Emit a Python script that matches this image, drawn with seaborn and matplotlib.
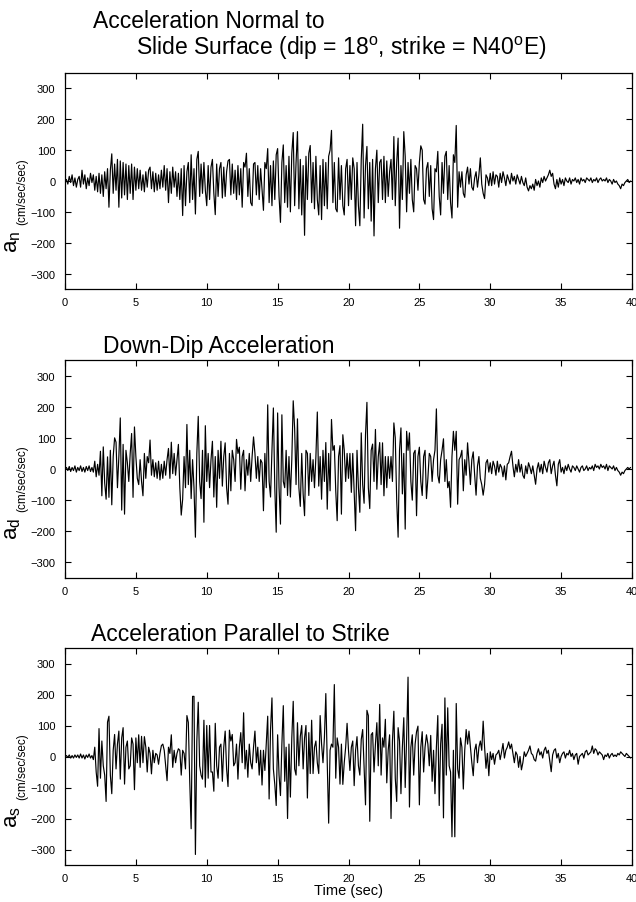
import matplotlib

matplotlib.use("Agg")
import matplotlib.pyplot as plt
import numpy as np
import pandas as pd
import seaborn as sns

# samples every 0.1 s, one row per second (values in cm/sec/sec)
DT = 0.1

AN = [
    0, 5, -10, 15, -5, 20, -15, 10, -20, 5,
    15, -20, 35, -10, 20, -25, 10, -15, 25, -5,
    20, -30, 15, -35, 25, -40, 20, -50, 30, -25,
    40, -85, 35, 88, -40, 55, -30, 70, -85, 65,
    -55, 60, -45, 55, -60, 50, -40, 55, -60, 45,
    -30, 40, -25, 35, -30, 20, -35, 30, -20, 35,
    45, -25, 30, -35, 25, -30, 20, -25, 35, -20,
    50, -30, 40, -70, 30, -40, 45, -20, 30, -50,
    25, -60, 40, -112, 50, -80, 30, 60, -70, 85,
    -60, 40, -107, 70, 96, -50, 55, -40, 60, -30,
    -80, 50, -60, 45, 70, -40, -109, 55, -50, 40,
    60, -55, 45, -50, 30, 65, 70, -45, 55, -40,
    35, -60, 50, -45, 40, -85, 60, 45, 90, -50,
    40, -70, -80, 55, 60, -45, 50, -60, 40, -30,
    -95, 60, 40, 105, -70, 50, -80, 65, -60, 85,
    105, -50, -134, 60, 117, -70, 50, -85, 80, -100,
    90, 157, -80, 60, 160, -90, 70, -110, 50, -176,
    80, -60, 90, 115, -70, 60, -90, 80, -60, -110,
    50, -125, 70, -80, 60, -90, 80, 100, 164, -70,
    60, -90, -100, 75, -60, 50, -80, -110, 40, 70,
    -80, 50, -60, 75, 40, -145, 60, -80, -145, 70,
    184, -120, 50, 112, -90, 60, -130, 70, -178, 40,
    100, -70, 60, 70, -60, 80, -70, 65, -50, 30,
    70, -60, 144, -80, 60, 139, -153, 50, -60, 160,
    80, -100, 60, -40, 70, -60, -100, 50, 40, -30,
    60, 114, 100, -60, -75, 40, 60, -50, 50, -90,
    -125, 40, 30, 96, -50, -110, 60, -40, 80, 96,
    -60, 50, -70, -120, 85, 60, 180, -85, 30, -20,
    30, -40, -53, 20, 45, -10, 40, -20, -30, 10,
    30, -20, 20, 75, -10, -40, -57, 20, 10, -15,
    25, -15, 30, -10, 20, 15, -20, 25, -5, 30,
    10, -15, 20, 5, -10, 25, 0, 15, -10, 20,
    5, -10, 15, -5, -15, 10, -20, -32, -15, -25,
    -10, -30, 5, -15, 0, -20, 10, -5, 15, 0,
    10, 20, 35, 15, 25, -10, -25, 5, -20, 10,
    -10, 5, -15, 10, 0, -5, 10, -10, 5, 0,
    10, -5, 5, -10, 10, 0, 5, -5, 10, 5,
    0, 10, -5, 5, 0, 10, -5, 5, 10, 0,
    5, 0, 10, -5, 5, 0, -10, 5, -5, 0,
    -10, -15, -25, -10, -15, -5, 0, 5, -5, 0,
]

AD = [
    0, 5, -5, 8, -8, 5, -5, 10, -10, 5,
    -5, 10, -8, 5, -10, 8, -5, 10, -8, 5,
    -10, 25, -25, 15, -20, 57, -86, 71, -45, -97,
    39, -91, 60, -115, 40, 100, 86, -60, 40, 164,
    -132, 79, -145, 60, 20, -40, 50, 114, -91, 135,
    40, -30, -50, 30, -40, -86, 50, -30, 40, 20,
    93, -20, 30, -25, 20, -30, 25, -35, 15, -30,
    25, -20, 30, 66, -30, 86, -15, 50, -20, 30,
    79, -60, -148, -97, 40, -60, 143, -50, 60, -95,
    30, -60, -219, 50, 169, -40, -95, 60, -171, 139,
    -40, 50, -60, 30, 89, -90, 40, -123, 60, -30,
    89, -55, 40, 84, -60, -113, 50, -70, 60, 30,
    -40, 95, 50, 70, -65, 40, 60, -70, 30, -20,
    50, -40, 40, 103, 50, -30, 40, -40, 30, 20,
    -134, 50, -60, 206, -40, -90, 60, 196, -60, -203,
    180, -60, -177, 174, -40, -60, 60, -85, 40, -90,
    30, 219, 130, -50, 161, -60, -120, 50, -80, -150,
    60, 50, -85, 50, -40, 30, -60, 40, 183, -55,
    40, -97, 60, -40, 85, -129, 50, -70, 159, 60,
    75, -70, -166, 40, 75, -145, 110, 60, -40, 50,
    -30, 50, -75, 50, -75, -198, 60, -60, -139, 116,
    -50, -110, 110, 214, -60, -127, 60, 80, -40, 127,
    -65, 40, 85, -50, 84, -86, 40, -60, 40, -30,
    40, -40, 148, 100, -100, -219, 60, 132, -80, 50,
    -193, 121, 60, 116, -40, -100, 50, 60, -150, 40,
    70, -40, -85, 40, 60, -95, -30, 50, 40, -40,
    30, 60, 193, -20, -45, 30, 60, 97, -40, 30,
    -60, -40, -123, 40, 121, 60, 121, -113, 30, 40,
    60, -70, 30, -20, 84, 20, -50, 30, 55, -20,
    -84, 10, 40, -30, -50, -84, -50, 20, 30, -10,
    20, -15, 25, 10, -20, 25, -10, 15, 5, -25,
    10, -35, 15, 20, 40, 57, 10, -25, 15, -10,
    30, -10, 15, -20, -30, 10, -15, 20, 5, -15,
    10, -20, -49, 0, 20, -10, 15, -15, 25, 5,
    -10, 20, 30, -15, 10, 25, -20, -54, 15, 30,
    -10, 5, -15, 10, -5, 15, 0, -10, 10, 5,
    -5, 10, 0, -10, 5, 10, -5, 0, 10, -5,
    5, 0, 10, -5, 15, 5, 10, 0, 15, 5,
    10, 0, 15, -5, 10, 5, 0, 10, -5, 5,
    -5, -10, -20, -10, -15, -5, 0, 5, 0, 5,
]

AS = [
    0, 3, -3, 5, -5, 3, -5, 5, -3, 5,
    -5, 8, -5, 5, -8, 5, -3, 8, -5, 3,
    -10, 30, -50, -96, 90, -70, 50, -30, -60, -145,
    111, 130, -60, -120, 20, 71, -40, 40, 82, -73,
    60, 93, -89, 30, 50, -40, -30, 60, 40, -107,
    60, -20, 70, -35, 65, -20, 64, 30, -50, 30,
    10, -56, 20, -20, 10, 5, -25, 10, 35, 40,
    20, -30, -78, 30, 10, 70, -35, 20, -20, 10,
    25, 20, -60, 20, 10, -40, 132, 110, -80, -233,
    194, 194, -316, 50, 175, -30, -60, -73, 117, -99,
    100, -70, 100, -50, -50, -112, 107, -30, -70, 30,
    40, -80, 30, 82, -40, -97, 85, 50, 71, -30,
    -20, 40, -73, 30, 77, -20, 141, -40, 20, -67,
    40, -20, -40, 30, 82, -20, 30, -60, 20, -92,
    20, -45, 40, 130, -137, 87, 189, -40, -90, -158,
    70, -60, -126, 40, 164, -80, 30, -200, 40, -131,
    60, 178, -40, -60, 109, -30, 65, 100, -40, 60,
    100, -134, 77, -55, 117, -55, 30, 50, -20, -55,
    132, 40, -20, 60, 203, -20, -215, 20, 40, 30,
    232, -70, 60, 30, -89, 40, -90, -20, 30, 107,
    20, -45, 30, 50, -94, 20, 64, -30, -60, 55,
    87, -30, -156, 149, 132, -209, 70, 77, -50, 40,
    109, -30, 168, -60, 60, 30, 120, -85, 20, 70,
    -200, 50, 146, -70, -145, 93, 50, -120, 30, 125,
    -100, 60, 256, -163, 30, 70, -60, 40, 80, 98,
    -156, 30, 80, -50, 30, 70, 40, -30, 68, -80,
    20, -120, 30, 132, -158, 40, 104, -198, 189, -60,
    157, -30, -50, -259, 20, -259, 171, -40, -70, 60,
    30, -105, 20, 87, 40, 82, 30, -20, -62, 20,
    40, -20, 30, 50, 20, 114, 30, -38, 10, -62,
    15, -10, 10, -25, 5, 10, 20, -10, 15, 42,
    -5, 20, 30, 47, 25, 40, 10, -20, 15, 5,
    -35, 0, -43, -20, 15, 0, 10, 20, 34, 10,
    5, -10, -15, 10, 25, 5, 15, -5, 20, 30,
    10, 20, -15, -49, 5, 20, 25, -5, 10, -20,
    0, 10, 15, -5, 10, 5, 20, 0, 10, -10,
    5, 10, -25, 0, 5, 10, -5, 15, 20, 5,
    10, 15, 34, 10, 25, 20, 5, 15, 10, 5,
    -10, 5, 0, 10, -5, 5, 10, 0, 5, 0,
    10, 5, 15, 10, 5, 0, 10, 5, 0, -5,
]

SUBSCRIPTS = ["n", "d", "s"]
X_TICKS = [0, 5, 10, 15, 20, 25, 30, 35, 40]
Y_TICKS = [-300, -200, -100, 0, 100, 200, 300]

W, H = 636, 903


def fx(px):
    return px / W


def fy(py):
    return 1 - py / H


sns.set_style("ticks")
plt.rcParams["font.family"] = ["Liberation Sans", "DejaVu Sans"]
plt.rcParams["mathtext.fontset"] = "custom"
plt.rcParams["mathtext.rm"] = "Liberation Sans"
plt.rcParams["mathtext.it"] = "Liberation Sans:italic"
for key in ["text.color", "axes.labelcolor", "xtick.color", "ytick.color", "axes.edgecolor"]:
    plt.rcParams[key] = "black"

fig = plt.figure(figsize=(W / 100, H / 100), dpi=100)

# axes tops/bottoms in pixels
panel_px = [(74, 290), (361, 579), (649, 866)]
left_px, right_px = 65, 632

for i, (series, sub) in enumerate(zip([AN, AD, AS], SUBSCRIPTS)):
    top, bot = panel_px[i]
    ax = fig.add_axes([fx(left_px), fy(bot), fx(right_px) - fx(left_px), (bot - top) / H])
    df = pd.DataFrame({"t": np.arange(len(series)) * DT, "a": series})
    sns.lineplot(data=df, x="t", y="a", ax=ax, color="black", linewidth=0.85,
                 estimator=None, sort=False)
    ax.set_xlim(0, 40)
    ax.set_ylim(-350, 350)
    ax.set_xticks(X_TICKS)
    ax.set_yticks(Y_TICKS)
    ax.tick_params(direction="in", top=True, right=True, length=4.5, width=0.8,
                   labelsize=8)
    ax.tick_params(axis="x", pad=6)
    ax.tick_params(axis="y", pad=7)
    for s in ax.spines.values():
        s.set_linewidth(0.9)
    ax.set_ylabel("")
    ax.set_xlabel("Time (sec)" if i == 2 else "", fontsize=10.5, labelpad=0)

    # y label: large "a" with subscript, smaller units
    fig.text(fx(17.5), fy(top + 179), "a$_\\mathrm{" + sub + "}$", rotation=90,
             rotation_mode="anchor", fontsize=16, ha="left", va="baseline")
    fig.text(fx(25), fy(top + 151), "(cm/sec/sec)", rotation=90,
             rotation_mode="anchor", fontsize=8.5, ha="left", va="baseline")

fig.text(fx(93), fy(28), "Acceleration Normal to", fontsize=16.5, va="baseline")
fig.text(fx(136), fy(55),
         "Slide Surface (dip = 18$^\\mathrm{o}$, strike = N40$^\\mathrm{o}$E)",
         fontsize=16.5, va="baseline")
fig.text(fx(103), fy(353), "Down-Dip Acceleration", fontsize=16.5, va="baseline")
fig.text(fx(91), fy(641), "Acceleration Parallel to Strike", fontsize=16.5, va="baseline")

fig.savefig("out.png", dpi=100)
